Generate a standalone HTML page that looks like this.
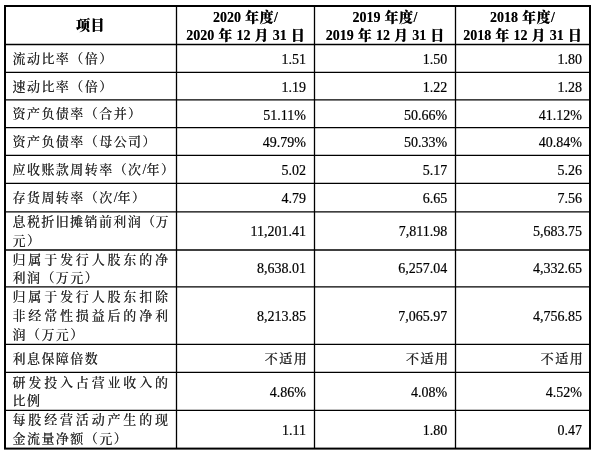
<!DOCTYPE html><html lang="zh-CN"><head><meta charset="utf-8"><title>财务指标</title><style>
html,body{margin:0;padding:0;background:#fff;}
body{width:600px;height:457px;position:relative;overflow:hidden;font-family:"Liberation Serif","Noto Serif CJK SC",serif;font-size:14.0px;color:#1c1c1c;text-shadow:0 0 0.6px rgba(0,0,0,0.55);}
svg{position:absolute;left:0;top:0;}
.t{position:absolute;white-space:nowrap;line-height:18px;height:18px;}
.r{text-align:right;color:#000;-webkit-text-stroke:0.2px #000;text-shadow:none;}
.c{text-align:center;font-weight:bold;color:#000;text-shadow:0 0 0.6px rgba(0,0,0,0.5);}
.z{font-size:13.0px;font-weight:500;color:#262626;}
.hz{font-weight:900;}
</style></head><body>
<svg width="600" height="457" viewBox="0 0 600 457"><rect x="5.0" y="6.0" width="585.0" height="442.6" fill="none" stroke="#000" stroke-width="2"/><g stroke="#000" stroke-width="1.3"><line x1="5.0" y1="44.5" x2="590.0" y2="44.5"/><line x1="5.0" y1="72.4" x2="590.0" y2="72.4"/><line x1="5.0" y1="99.95" x2="590.0" y2="99.95"/><line x1="5.0" y1="127.7" x2="590.0" y2="127.7"/><line x1="5.0" y1="155.45" x2="590.0" y2="155.45"/><line x1="5.0" y1="183.3" x2="590.0" y2="183.3"/><line x1="5.0" y1="211.95" x2="590.0" y2="211.95"/><line x1="5.0" y1="250.0" x2="590.0" y2="250.0"/><line x1="5.0" y1="286.9" x2="590.0" y2="286.9"/><line x1="5.0" y1="344.45" x2="590.0" y2="344.45"/><line x1="5.0" y1="372.3" x2="590.0" y2="372.3"/><line x1="5.0" y1="410.3" x2="590.0" y2="410.3"/></g><g stroke="#000" stroke-width="1.3"><line x1="176.5" y1="6.0" x2="176.5" y2="448.6"/><line x1="314.5" y1="6.0" x2="314.5" y2="448.6"/><line x1="455.5" y1="6.0" x2="455.5" y2="448.6"/></g></svg>
<div class="t c" style="left:6px;top:17px;width:169px;"><span class="hz" style="letter-spacing:0.5px">项目</span></div>
<div class="t c" style="left:177px;top:9px;width:137px;word-spacing:0.6px">2020 <span class="hz" style="letter-spacing:0.5px">年度</span>/</div>
<div class="t c" style="left:177px;top:27px;width:137px;word-spacing:0.6px">2020 <span class="hz">年</span> 12 <span class="hz">月</span> 31 <span class="hz">日</span></div>
<div class="t c" style="left:315px;top:9px;width:140px;word-spacing:0.6px">2019 <span class="hz" style="letter-spacing:0.5px">年度</span>/</div>
<div class="t c" style="left:315px;top:27px;width:140px;word-spacing:0.6px">2019 <span class="hz">年</span> 12 <span class="hz">月</span> 31 <span class="hz">日</span></div>
<div class="t c" style="left:456px;top:9px;width:133px;word-spacing:0.6px">2018 <span class="hz" style="letter-spacing:0.5px">年度</span>/</div>
<div class="t c" style="left:456px;top:27px;width:133px;word-spacing:0.6px">2018 <span class="hz">年</span> 12 <span class="hz">月</span> 31 <span class="hz">日</span></div>
<div class="t" style="left:12.5px;top:50px;"><span class="z" style="letter-spacing:1.45px">流动比率（倍）</span></div>
<div class="t r" style="left:185.9px;top:51px;width:120px;">1.51</div>
<div class="t r" style="left:327.2px;top:51px;width:120px;">1.50</div>
<div class="t r" style="left:462px;top:51px;width:120px;">1.80</div>
<div class="t" style="left:12.5px;top:78px;"><span class="z" style="letter-spacing:1.45px">速动比率（倍）</span></div>
<div class="t r" style="left:185.9px;top:79px;width:120px;">1.19</div>
<div class="t r" style="left:327.2px;top:79px;width:120px;">1.22</div>
<div class="t r" style="left:462px;top:79px;width:120px;">1.28</div>
<div class="t" style="left:12.5px;top:105px;"><span class="z" style="letter-spacing:1.45px">资产负债率（合并）</span></div>
<div class="t r" style="left:185.9px;top:107px;width:120px;">51.11%</div>
<div class="t r" style="left:327.2px;top:107px;width:120px;">50.66%</div>
<div class="t r" style="left:462px;top:107px;width:120px;">41.12%</div>
<div class="t" style="left:12.5px;top:133px;"><span class="z" style="letter-spacing:1.45px">资产负债率（母公司）</span></div>
<div class="t r" style="left:185.9px;top:134px;width:120px;">49.79%</div>
<div class="t r" style="left:327.2px;top:134px;width:120px;">50.33%</div>
<div class="t r" style="left:462px;top:134px;width:120px;">40.84%</div>
<div class="t" style="left:12.5px;top:161px;"><span class="z" style="letter-spacing:1.45px">应收账款周转率（次</span>/<span class="z" style="letter-spacing:1.45px">年）</span></div>
<div class="t r" style="left:185.9px;top:162px;width:120px;">5.02</div>
<div class="t r" style="left:327.2px;top:162px;width:120px;">5.17</div>
<div class="t r" style="left:462px;top:162px;width:120px;">5.26</div>
<div class="t" style="left:12.5px;top:189px;"><span class="z" style="letter-spacing:1.45px">存货周转率（次</span>/<span class="z" style="letter-spacing:1.45px">年）</span></div>
<div class="t r" style="left:185.9px;top:190px;width:120px;">4.79</div>
<div class="t r" style="left:327.2px;top:190px;width:120px;">6.65</div>
<div class="t r" style="left:462px;top:190px;width:120px;">7.56</div>
<div class="t" style="left:12.5px;top:213px;"><span class="z" style="letter-spacing:1.4px">息税折旧摊销前利润</span><span class="z" style="letter-spacing:0.3px">（</span><span class="z">万</span></div>
<div class="t" style="left:12.5px;top:232px;"><span class="z" style="letter-spacing:1.45px">元）</span></div>
<div class="t r" style="left:185.9px;top:223px;width:120px;">11,201.41</div>
<div class="t r" style="left:327.2px;top:223px;width:120px;">7,811.98</div>
<div class="t r" style="left:462px;top:223px;width:120px;">5,683.75</div>
<div class="t" style="left:12.5px;top:251px;"><span class="z" style="letter-spacing:2.83px">归属于发行人股东的净</span></div>
<div class="t" style="left:12.5px;top:269px;"><span class="z" style="letter-spacing:1.45px">利润（万元）</span></div>
<div class="t r" style="left:185.9px;top:260px;width:120px;">8,638.01</div>
<div class="t r" style="left:327.2px;top:260px;width:120px;">6,257.04</div>
<div class="t r" style="left:462px;top:260px;width:120px;">4,332.65</div>
<div class="t" style="left:12.5px;top:288px;"><span class="z" style="letter-spacing:2.83px">归属于发行人股东扣除</span></div>
<div class="t" style="left:12.5px;top:307px;"><span class="z" style="letter-spacing:2.83px">非经常性损益后的净利</span></div>
<div class="t" style="left:12.5px;top:326px;"><span class="z" style="letter-spacing:1.45px">润（万元）</span></div>
<div class="t r" style="left:185.9px;top:308px;width:120px;">8,213.85</div>
<div class="t r" style="left:327.2px;top:308px;width:120px;">7,065.97</div>
<div class="t r" style="left:462px;top:308px;width:120px;">4,756.85</div>
<div class="t" style="left:12.5px;top:350px;"><span class="z" style="letter-spacing:1.45px">利息保障倍数</span></div>
<div class="t r" style="left:188.1px;top:350px;width:120px;"><span class="z" style="letter-spacing:1.45px">不适用</span></div>
<div class="t r" style="left:329.4px;top:350px;width:120px;"><span class="z" style="letter-spacing:1.45px">不适用</span></div>
<div class="t r" style="left:464.2px;top:350px;width:120px;"><span class="z" style="letter-spacing:1.45px">不适用</span></div>
<div class="t" style="left:12.5px;top:374px;"><span class="z" style="letter-spacing:2.83px">研发投入占营业收入的</span></div>
<div class="t" style="left:12.5px;top:392px;"><span class="z" style="letter-spacing:1.45px">比例</span></div>
<div class="t r" style="left:185.9px;top:384px;width:120px;">4.86%</div>
<div class="t r" style="left:327.2px;top:384px;width:120px;">4.08%</div>
<div class="t r" style="left:462px;top:384px;width:120px;">4.52%</div>
<div class="t" style="left:12.5px;top:411px;"><span class="z" style="letter-spacing:2.83px">每股经营活动产生的现</span></div>
<div class="t" style="left:12.5px;top:430px;"><span class="z" style="letter-spacing:1.45px">金流量净额（元）</span></div>
<div class="t r" style="left:185.9px;top:422px;width:120px;">1.11</div>
<div class="t r" style="left:327.2px;top:422px;width:120px;">1.80</div>
<div class="t r" style="left:462px;top:422px;width:120px;">0.47</div>
</body></html>
